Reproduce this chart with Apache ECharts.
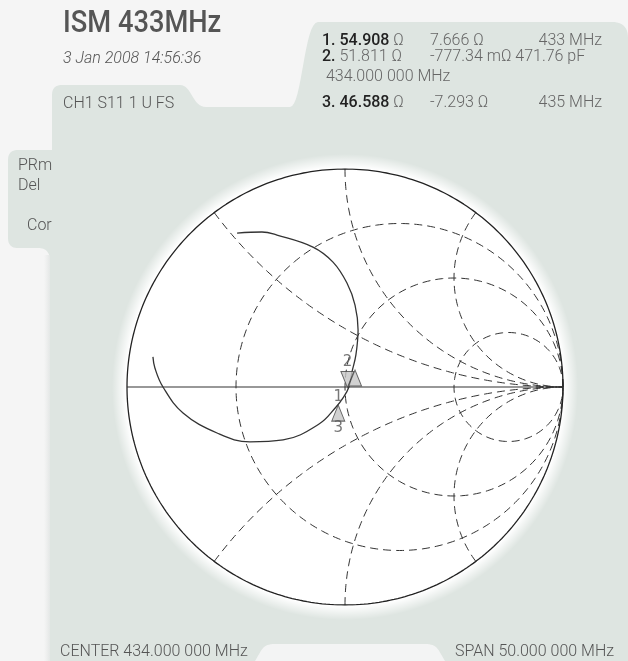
<!DOCTYPE html>
<html><head><meta charset="utf-8">
<script src="https://cdn.jsdelivr.net/npm/echarts@6/dist/echarts.min.js"></script>
<style>html,body{margin:0;padding:0;background:#f5f5f5;} #c{width:628px;height:661px;}</style>
</head><body><div id="c"></div>
<script>
// ---- chart values ----
const resistanceCircles = [1/3, 1, 3];        // constant-r grid circles
const reactanceArcs = [0.5, 1, 2, -0.5, -1, -2]; // constant-x grid arcs
const traceRe = [-0.495,-0.381,-0.312,-0.147,-0.055,0.009,0.046,0.060,0.050,0.032,0.018,-0.009,-0.041,-0.119,-0.284,-0.436,-0.587,-0.743,-0.835,-0.872,-0.881];
const traceIm = [0.706,0.711,0.697,0.642,0.573,0.477,0.376,0.261,0.147,0.069,0.000,-0.050,-0.092,-0.170,-0.243,-0.252,-0.211,-0.119,0.000,0.087,0.138];
// marker symbols (reflection coefficient) and their labels
const markerRe = [-0.031, 0.011, 0.046];
const markerIm = [-0.083, -0.002, 0.078];
const markerDir = ['up', 'down', 'up'];
const markerTop = ['1', '2', ''];
const markerBottom = ['3', '', ''];
const titleText = 'ISM 433MHz';
const dateText = '3 Jan 2008 14:56:36';
const channelText = 'CH1 S11 1 U FS';
const sideTexts = ['PRm', 'Del', 'Cor'];
const markerRows = [
  ['1. 54.908', ' Ω', '7.666 Ω', '433 MHz'],
  ['2.', ' 51.811 Ω', '-777.34 mΩ 471.76 pF', ''],
  ['', ' 434.000 000 MHz', '', ''],
  ['3. 46.588', ' Ω', '-7.293 Ω', '435 MHz']
];
const centerText = 'CENTER 434.000 000 MHz';
const spanText = 'SPAN 50.000 000 MHz';

// ---- build geometry ----
function rCircle(r){
  const c = r/(1+r), rad = 1/(1+r), pts = [];
  for (let i=0;i<=360;i++){ const a=i*Math.PI/180; pts.push([c+rad*Math.cos(a), rad*Math.sin(a)]); }
  return pts;
}
function xArc(x){
  const pts = [];
  for (let k=0;k<400;k++){
    const t = Math.tan(k/400*Math.PI/2);
    const den = (t+1)*(t+1)+x*x;
    pts.push([(t*t-1+x*x)/den, 2*x/den]);
  }
  pts.push([1,0]);
  return pts;
}
// outline helper: simple path string (M/L/C/Q absolute) to polygon points
function outline(d){
  const tok = d.match(/[MLCQZ]|-?\d+(\.\d+)?/g); const pts=[]; let i=0, cur=[0,0], cmd='';
  const num=()=>parseFloat(tok[i++]);
  while(i<tok.length){
    if(/[MLCQZ]/.test(tok[i])) cmd=tok[i++];
    if(cmd==='Z') break;
    if(cmd==='M'||cmd==='L'){ cur=[num(),num()]; pts.push(cur); }
    else if(cmd==='C'){ const p1=[num(),num()],p2=[num(),num()],p3=[num(),num()],p0=cur;
      for(let k=1;k<=16;k++){const t=k/16,u=1-t; pts.push([u*u*u*p0[0]+3*u*u*t*p1[0]+3*u*t*t*p2[0]+t*t*t*p3[0], u*u*u*p0[1]+3*u*u*t*p1[1]+3*u*t*t*p2[1]+t*t*t*p3[1]]);} cur=p3; }
    else if(cmd==='Q'){ const p1=[num(),num()],p2=[num(),num()],p0=cur;
      for(let k=1;k<=12;k++){const t=k/12,u=1-t; pts.push([u*u*p0[0]+2*u*t*p1[0]+t*t*p2[0], u*u*p0[1]+2*u*t*p1[1]+t*t*p2[1]]);} cur=p2; }
  }
  return pts;
}
const dashStyle = {color:'#333', width:1, type:[8,5]};
const series = [];
resistanceCircles.forEach(r=>series.push({type:'line', data:rCircle(r), showSymbol:false, silent:true, lineStyle:dashStyle, z:3}));
reactanceArcs.forEach(x=>series.push({type:'line', data:xArc(x), showSymbol:false, silent:true, lineStyle:dashStyle, z:3}));
series.push({type:'line', data:rCircle(0), showSymbol:false, silent:true, lineStyle:{color:'#222', width:1.3}, z:4});
series.push({type:'line', data:[[-1,0],[1,0]], showSymbol:false, silent:true, lineStyle:{color:'#333', width:1.2}, z:4});
series.push({type:'line', data:traceRe.map((v,i)=>[v, traceIm[i]]), smooth:0.4, showSymbol:false, silent:true, lineStyle:{color:'#333', width:1.3}, z:5});
series.push({
  type:'scatter', z:6, silent:true,
  data: markerRe.map((v,i)=>({
    value:[v, markerIm[i]],
    symbolRotate: markerDir[i]==='down'?180:0,
    symbolOffset: markerDir[i]==='down'?[0,'-50%']:[0,'50%'],
    label:{show:!!markerTop[i], position:'top', distance: markerDir[i]==='down'?1:0,
      formatter: markerTop[i], color:'#555', fontSize:15, fontFamily:'DejaVu Sans'}
  })),
  symbol:'triangle', symbolSize:[13,16],
  itemStyle:{color:'#c6c6c6', borderColor:'#444', borderWidth:1}
});
series.push({
  type:'scatter', z:6, silent:true,
  data: markerRe.map((v,i)=>({value:[v, markerIm[i]], label:{show:!!markerBottom[i], formatter: markerBottom[i]}})),
  symbol:'circle', symbolSize:1, itemStyle:{color:'rgba(0,0,0,0)'},
  label:{position:'bottom', distance:15, color:'#555', fontSize:15, fontFamily:'DejaVu Sans'}
});

const F = 'Roboto, "Noto Sans", sans-serif';
const graphics = [
  {type:'polygon', z:0, silent:true, shape:{points:outline('M50 661 L50 262 C50 252 46 248 38 248 L18 248 Q8 248 8 238 L8 160 Q8 150 18 150 L52 150 L52 95 Q52 85 62 85 L180 85 C192 85 192 107 206 107 L290 107 C302 107 304 22 318 22 L612 22 Q628 22 628 38 L628 661 Z')}, style:{fill:'#dee5e1'}},
  {type:'rect', z:0, silent:true, shape:{x:44, y:255, width:6, height:406}, style:{fill:{type:'linear',x:0,y:0,x2:1,y2:0,colorStops:[{offset:0,color:'rgba(230,232,231,0)'},{offset:1,color:'#e4e7e6'}]}}},
  {type:'polygon', z:0, silent:true, shape:{points:outline('M255 661 C262 650 262 644 275 644 L425 644 C438 644 438 650 445 661 Z')}, style:{fill:'#f3f4f4'}},
  {type:'circle', z:1, silent:true, shape:{cx:345, cy:387, r:233}, style:{fill:{type:'radial',x:0.5,y:0.5,r:0.5,colorStops:[{offset:0,color:'#ffffff'},{offset:0.94,color:'#ffffff'},{offset:1,color:'rgba(255,255,255,0)'}]}}},
  {type:'text', z:10, x:63, y:24, scaleX:0.88, style:{text:titleText, fill:'#555', font:'500 31px '+F, verticalAlign:'middle'}},
  {type:'text', z:10, x:63, y:59, style:{text:dateText, fill:'#555', font:'italic 300 16px '+F, verticalAlign:'middle'}},
  {type:'text', z:10, x:63, y:104, style:{text:channelText, fill:'#555', font:'300 16px '+F, verticalAlign:'middle'}},
  {type:'text', z:10, x:18, y:166, style:{text:sideTexts[0], fill:'#555', font:'300 16px '+F, verticalAlign:'middle'}},
  {type:'text', z:10, x:18, y:186, style:{text:sideTexts[1], fill:'#555', font:'300 16px '+F, verticalAlign:'middle'}},
  {type:'text', z:10, x:27, y:226, style:{text:sideTexts[2], fill:'#555', font:'300 16px '+F, verticalAlign:'middle'}},
  {type:'text', z:10, x:60, y:652, style:{text:centerText, fill:'#555', font:'300 16px '+F, verticalAlign:'middle'}},
  {type:'text', z:10, x:614, y:652, style:{text:spanText, fill:'#555', font:'300 16px '+F, verticalAlign:'middle', align:'right'}}
];
const rowY = [41, 57, 77, 103];
markerRows.forEach((row,i)=>{
  const y = rowY[i];
  graphics.push({type:'text', z:10, x:322, y:y, style:{text:'{b|'+row[0]+'}{g|'+row[1]+'}', verticalAlign:'middle',
    rich:{b:{fill:'#222', font:'500 16px '+F}, g:{fill:'#666', font:'300 16px '+F}}}});
  if(row[2]) graphics.push({type:'text', z:10, x:430, y:y, style:{text:row[2], fill:'#666', font:'300 16px '+F, verticalAlign:'middle'}});
  if(row[3]) graphics.push({type:'text', z:10, x:602, y:y, style:{text:row[3], fill:'#666', font:'300 16px '+F, verticalAlign:'middle', align:'right'}});
});

const chart = echarts.init(document.getElementById('c'), null, {renderer:'canvas'});
chart.setOption({
  backgroundColor:'#f5f5f5',
  animation:false,
  grid:{left:127, top:169, width:436, height:436},
  xAxis:{type:'value', min:-1, max:1, show:false},
  yAxis:{type:'value', min:-1, max:1, show:false},
  graphic:graphics,
  series:series
});
</script></body></html>
